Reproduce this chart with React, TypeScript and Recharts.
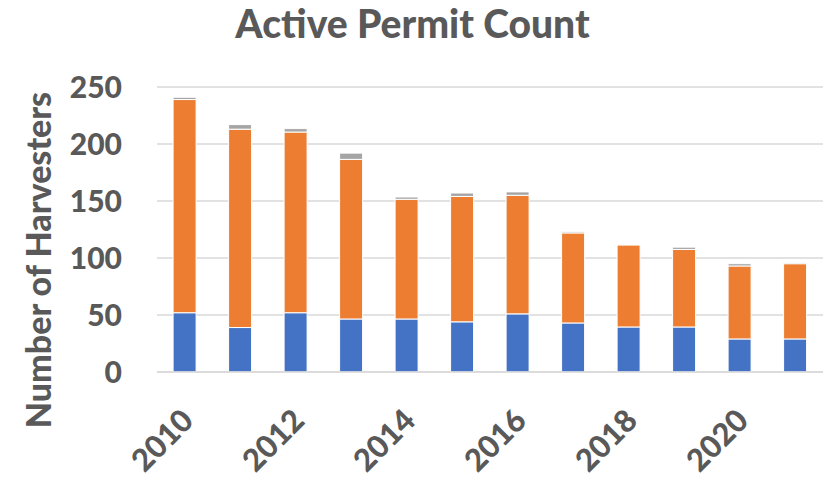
import { Bar, BarChart, CartesianGrid, XAxis, YAxis } from "recharts";

const years = ["2010", "2011", "2012", "2013", "2014", "2015", "2016", "2017", "2018", "2019", "2020", "2021"];
const blueSeries = [52, 39, 52, 46.5, 46.5, 44, 51, 43, 39.5, 39.5, 29, 29];
const orangeSeries = [187, 174, 158.5, 140, 105, 110, 104, 79, 72, 68, 64, 66];
const graySeries = [2, 4, 3, 5.5, 2, 3, 3, 1, 0.5, 2, 2, 1];
const yTicks = [0, 50, 100, 150, 200, 250];

const data = years.map((year, i) => ({
  year,
  blue: blueSeries[i],
  orange: orangeSeries[i],
  gray: graySeries[i],
}));

const textColor = "#595959";
const fontFamily = "Lato, 'Open Sans', sans-serif";

export default function App() {
  return (
    <div style={{ position: "absolute", left: 0, top: 0, width: 825, height: 478, background: "#fff", fontFamily }}>
      <div
        style={{
          position: "absolute",
          left: 4,
          top: 0,
          width: 817,
          textAlign: "center",
          fontSize: 39,
          fontWeight: 900,
          color: textColor,
          lineHeight: "47px",
        }}
      >
        Active Permit Count
      </div>
      <BarChart
        width={825}
        height={478}
        data={data}
        margin={{ top: 87, right: 2, left: 0, bottom: 0 }}
        barCategoryGap="29%"
      >
        <CartesianGrid vertical={false} stroke="#d9d9d9" strokeWidth={1.5} />
        <XAxis
          dataKey="year"
          interval={1}
          height={106}
          tickLine={false}
          axisLine={{ stroke: "#d9d9d9", strokeWidth: 1.5 }}
          tickMargin={29}
          angle={-45}
          textAnchor="end"
          tick={{ fill: textColor, fontSize: 31, fontWeight: 900, fontFamily, dx: -5 }}
        />
        <YAxis
          domain={[0, 250]}
          ticks={yTicks}
          width={157}
          tickLine={false}
          axisLine={false}
          tickMargin={29}
          tick={{ fill: textColor, fontSize: 30, fontWeight: 900, fontFamily }}
          label={{
            content: () => (
              <text
                x={37}
                y={260}
                transform="rotate(-90 37 260)"
                textAnchor="middle"
                dominantBaseline="central"
                fill={textColor}
                fontSize={34}
                fontWeight={900}
                fontFamily={fontFamily}
              >
                Number of Harvesters
              </text>
            ),
          }}
        />
        <Bar dataKey="blue" stackId="a" fill="#4472c4" stroke="#fff" strokeWidth={1} isAnimationActive={false} />
        <Bar dataKey="orange" stackId="a" fill="#ed7d31" stroke="#fff" strokeWidth={1} isAnimationActive={false} />
        <Bar dataKey="gray" stackId="a" fill="#a5a5a5" stroke="#fff" strokeWidth={1} isAnimationActive={false} />
      </BarChart>
    </div>
  );
}
